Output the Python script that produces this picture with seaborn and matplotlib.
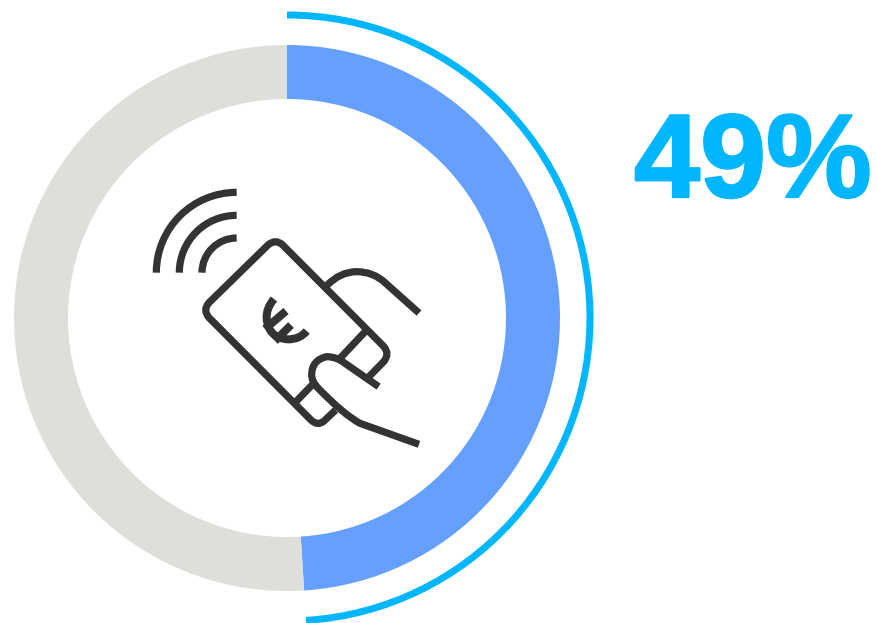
import matplotlib
matplotlib.use("Agg")
import matplotlib.pyplot as plt
import matplotlib.patheffects as pe
import seaborn as sns
from matplotlib.patches import PathPatch
from matplotlib.path import Path

# Values
share = [49, 51]
share_label = "49%"

# Colours
ring_colors = ["#66A0FF", "#DEDFDA"]
accent = "#00B6FF"
ink = "#333333"

sns.set_theme(style="white")
plt.rcParams["font.family"] = ["Liberation Sans", "DejaVu Sans"]

W, H = 877, 623
fig = plt.figure(figsize=(W / 100, H / 100), dpi=100)
ax = fig.add_axes([0, 0, 1, 1])

# main ring + thin outer arc
cx, cy = 287, H - 318
ax.pie(share, colors=ring_colors, startangle=90, counterclock=False,
       center=(cx, cy), radius=273,
       wedgeprops=dict(width=54, linewidth=0))
ax.pie(share, colors=[accent, "none"], startangle=90, counterclock=False,
       center=(cx, cy), radius=306.5,
       wedgeprops=dict(width=7, linewidth=0))

ax.set_xlim(0, W)
ax.set_ylim(0, H)
ax.set_aspect("equal")
ax.axis("off")

label = ax.text(634, H - 197, share_label, color=accent, fontsize=85.5, fontweight="bold",
                ha="left", va="baseline")
label.set_path_effects([pe.withStroke(linewidth=1.6, foreground=accent)])


# icon, traced in the coordinates of a 3x crop starting at (140, 175)
def pt(x, y):
    return 140 + x / 3, H - (175 + y / 3)


def stroke(points, codes=None, lw=5.2):
    verts = [pt(*p) for p in points]
    if codes is None:
        codes = [Path.MOVETO] + [Path.LINETO] * (len(verts) - 1)
    ax.add_patch(PathPatch(Path(verts, codes), fill=False, edgecolor=ink, lw=lw,
                           capstyle="butt", joinstyle="round"))


M, L, Q = Path.MOVETO, Path.LINETO, Path.CURVE3
C = Path.CURVE4

# radio waves
k = 0.5523
for r in [241, 172, 104]:
    ox, oy = 290, 293
    stroke([(ox - r, oy), (ox - r, oy - k * r), (ox - k * r, oy - r), (ox, oy - r)],
           [M, C, C, C])

# card outline, open where the thumb crosses it
stroke([(587, 705), (552, 738), (533, 755), (512, 734),
        (207, 428), (187, 405), (207, 383),
        (384, 210), (407, 190), (428, 210),
        (730, 513), (752, 537), (730, 561), (680, 612)],
       [M, L, Q, Q, L, Q, Q, L, Q, Q, L, Q, Q, L])

# stripe pieces
stroke([(682, 463), (600, 550)])
stroke([(518, 628), (466, 682)])

# upper finger
stroke([(560, 332), (600, 290), (650, 290), (700, 290), (735, 323), (837, 414)],
       [M, Q, Q, Q, Q, L])

# thumb
stroke([(716, 635), (615, 565), (590, 545), (560, 545), (515, 555), (515, 600),
        (515, 620), (535, 640), (610, 718), (660, 745), (837, 808)],
       [M, L, Q, Q, Q, Q, Q, L, Q, Q, L])

# euro sign
stroke([(402, 372), (378, 400), (380, 430), (385, 490), (445, 493), (480, 493), (500, 468)],
       [M, Q, Q, Q, Q, Q, Q], lw=5.8)
stroke([(438, 408), (375, 462)], lw=5.8)
stroke([(453, 450), (405, 498)], lw=5.8)

fig.savefig("out.png", dpi=100)
